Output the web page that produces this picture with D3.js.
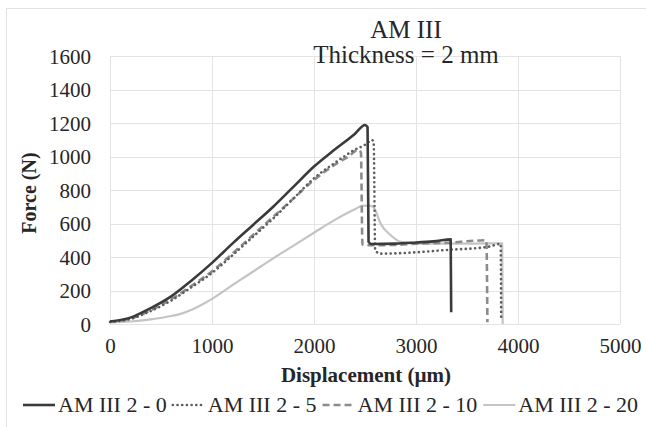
<!DOCTYPE html>
<html>
<head>
<meta charset="utf-8">
<script src="https://cdn.jsdelivr.net/npm/d3@7"></script>
<style>
  body { margin: 0; background: #fff; }
  svg text { font-family: "Liberation Serif", "DejaVu Serif", serif !important; fill: #262626; }
</style>
</head>
<body>
<script>
// series values: displacement (um) and force (N)
var seriesNames = ["AM III 2 - 0", "AM III 2 - 5", "AM III 2 - 10", "AM III 2 - 20"];

var am0X = [0, 200, 400, 600, 800, 1000, 1200, 1400, 1600, 1800, 2000, 2200, 2400, 2500, 2525, 2535, 2560, 2800, 3000, 3200, 3340, 3345];
var am0Y = [15, 38, 95, 165, 260, 365, 480, 590, 700, 820, 940, 1040, 1135, 1188, 1175, 490, 478, 480, 487, 495, 505, 70];

var am5X = [0, 200, 400, 600, 800, 1000, 1200, 1400, 1600, 1800, 2000, 2200, 2400, 2500, 2570, 2585, 2600, 2650, 3000, 3300, 3700, 3830, 3835];
var am5Y = [12, 30, 78, 140, 220, 305, 410, 520, 630, 750, 870, 960, 1040, 1070, 1098, 1085, 440, 420, 428, 442, 460, 478, 25];

var am10X = [0, 200, 400, 600, 800, 1000, 1200, 1400, 1600, 1800, 2000, 2200, 2350, 2430, 2460, 2475, 2520, 2800, 3000, 3300, 3600, 3690, 3700];
var am10Y = [15, 32, 82, 148, 228, 315, 420, 530, 640, 750, 860, 950, 1005, 1040, 1025, 475, 470, 472, 480, 485, 498, 500, 10];

var am20X = [0, 200, 400, 600, 700, 800, 900, 1000, 1200, 1400, 1600, 1800, 2000, 2200, 2400, 2480, 2560, 2600, 2650, 2750, 2850, 3000, 3500, 3845, 3850];
var am20Y = [10, 15, 28, 48, 62, 85, 115, 150, 232, 312, 392, 468, 545, 620, 685, 707, 705, 680, 603, 531, 490, 480, 480, 482, 0];

var xTicks = [0, 1000, 2000, 3000, 4000, 5000];
var yTicks = [0, 200, 400, 600, 800, 1000, 1200, 1400, 1600];

var chartTitle = ["AM III", "Thickness = 2 mm"];
var xTitle = "Displacement (\u00b5m)";
var yTitle = "Force (N)";

var svgWidth = 646;
var svgHeight = 427;
var serif = "'Liberation Serif', 'DejaVu Serif', serif";

var margin = {
    top: 56,
    right: 26,
    bottom: 103,
    left: 110
};
var width = svgWidth - margin.left - margin.right;
var height = svgHeight - margin.top - margin.bottom;

var svg = d3.select("body")
            .append("svg")
            .attr("width", svgWidth)
            .attr("height", svgHeight);

// light frame round the whole chart
svg.append("rect")
   .attr("x", 6.5)
   .attr("y", 8.5)
   .attr("width", 660)
   .attr("height", 440)
   .attr("fill", "none")
   .attr("stroke", "#e2e2e2");

var chartGroup = svg.append("g")
                .attr("transform", `translate(${margin.left}, ${margin.top})`);

var xScale = d3.scaleLinear().domain([0, 5000]).range([0, width]);
var yScale = d3.scaleLinear().domain([0, 1600]).range([height, 0]);

// gridlines
chartGroup.append("g")
    .selectAll("line")
    .data(yTicks)
    .enter()
    .append("line")
    .attr("x1", 0)
    .attr("x2", width)
    .attr("y1", d => Math.round(yScale(d)) + 0.5)
    .attr("y2", d => Math.round(yScale(d)) + 0.5)
    .attr("stroke", "#e3e3e3");

chartGroup.append("g")
    .selectAll("line")
    .data(xTicks)
    .enter()
    .append("line")
    .attr("y1", 0)
    .attr("y2", height)
    .attr("x1", d => Math.round(xScale(d)) + 0.5)
    .attr("x2", d => Math.round(xScale(d)) + 0.5)
    .attr("stroke", "#e3e3e3");

// axes (labels only, the lines are the gridlines)
var bottomAxis = d3.axisBottom(xScale).tickValues(xTicks).tickFormat(d3.format("d")).tickSize(0).tickPadding(14);
var leftAxis = d3.axisLeft(yScale).tickValues(yTicks).tickFormat(d3.format("d")).tickSize(0).tickPadding(19);

var xAxisG = chartGroup.append("g")
        .attr("transform", `translate(0, ${height})`)
        .call(bottomAxis);
var yAxisG = chartGroup.append("g")
        .call(leftAxis);

[xAxisG, yAxisG].forEach(function(g) {
    g.attr("font-family", null).attr("font-size", null);
    g.select(".domain").remove();
    g.selectAll("text")
     .style("font-family", serif)
     .style("font-size", "21px")
     .style("fill", "#262626");
});
xAxisG.selectAll("text").attr("dy", "0.71em");
yAxisG.selectAll("text").attr("dy", "0.34em");

// series
var line = d3.line()
            .curve(d3.curveMonotoneX)
            .x(d => xScale(d[0]))
            .y(d => yScale(d[1]));

var seriesData = [
    d3.zip(am20X, am20Y),
    d3.zip(am10X, am10Y),
    d3.zip(am5X, am5Y),
    d3.zip(am0X, am0Y)
];
var seriesStyle = [
    { color: "#c4c4c4", width: 2.2, dash: null, cap: "butt" },
    { color: "#8c8c8c", width: 2.6, dash: "7,4", cap: "butt" },
    { color: "#5e5e5e", width: 2.6, dash: "0.1,4.6", cap: "round" },
    { color: "#3a3a3a", width: 2.6, dash: null, cap: "butt" }
];

seriesData.forEach(function(data, i) {
    var st = seriesStyle[i];
    chartGroup.append("path")
        .datum(data)
        .attr("fill", "none")
        .attr("stroke", st.color)
        .attr("stroke-width", st.width)
        .attr("stroke-dasharray", st.dash)
        .attr("stroke-linecap", st.cap)
        .attr("stroke-linejoin", "round")
        .attr("d", line);
});

// titles
svg.append("text")
   .attr("x", 406)
   .attr("y", 38)
   .attr("text-anchor", "middle")
   .style("font-family", serif)
   .style("font-size", "25px")
   .text(chartTitle[0]);
svg.append("text")
   .attr("x", 406)
   .attr("y", 63)
   .attr("text-anchor", "middle")
   .style("font-family", serif)
   .style("font-size", "25px")
   .text(chartTitle[1]);

svg.append("text")
   .attr("x", 366)
   .attr("y", 382)
   .attr("text-anchor", "middle")
   .style("font-family", serif)
   .style("font-size", "21px")
   .style("font-weight", "bold")
   .text(xTitle);

svg.append("text")
   .attr("transform", "translate(36, 193) rotate(-90)")
   .attr("text-anchor", "middle")
   .style("font-family", serif)
   .style("font-size", "20px")
   .style("font-weight", "bold")
   .text(yTitle);

// legend, laid out left to right
var legendOrder = [3, 2, 1, 0];
var legendX = 23;
var legendY = 405;
legendOrder.forEach(function(si, k) {
    var st = seriesStyle[si];
    svg.append("line")
       .attr("x1", legendX)
       .attr("x2", legendX + 32)
       .attr("y1", legendY)
       .attr("y2", legendY)
       .attr("stroke", st.color)
       .attr("stroke-width", st.width)
       .attr("stroke-dasharray", st.dash)
       .attr("stroke-linecap", st.cap);
    var t = svg.append("text")
       .attr("x", legendX + 35)
       .attr("y", legendY + 7)
       .style("font-family", serif)
       .style("font-size", "22px")
       .text(seriesNames[k]);
    legendX = legendX + 35 + t.node().getComputedTextLength() + 6;
});
</script>
</body>
</html>
